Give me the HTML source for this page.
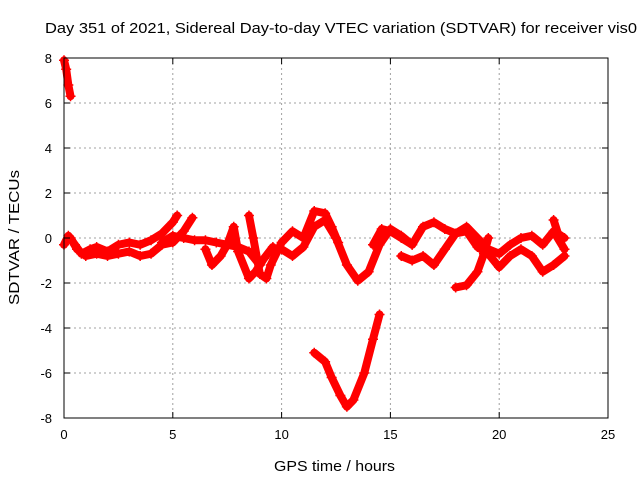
<!DOCTYPE html>
<html><head><meta charset="utf-8"><style>
body{margin:0;background:#fff;}
svg{display:block;font-family:"Liberation Sans",sans-serif;}
</style></head><body>
<svg id="c" width="640" height="480">
<rect width="640" height="480" fill="#fff"/>
<text x="45" y="33" font-size="15" textLength="592" lengthAdjust="spacingAndGlyphs">Day 351 of 2021, Sidereal Day-to-day VTEC variation (SDTVAR) for receiver vis0</text>
<g id="grid"></g><g id="marks"></g><g id="axes"></g>
<text x="274" y="471" font-size="15" textLength="121" lengthAdjust="spacingAndGlyphs">GPS time / hours</text>
<text transform="translate(19,305) rotate(-90)" font-size="15" textLength="135" lengthAdjust="spacingAndGlyphs">SDTVAR / TECUs</text>
</svg>
<script>
const xTicks=[0,5,10,15,20,25];
const yTicks=[-8,-6,-4,-2,0,2,4,6,8];
const s1=[[0,7.9],[0.1,7.5],[0.2,6.8],[0.3,6.3]];
const s2=[[0,-0.3],[0.2,0.1],[0.5,-0.3],[0.8,-0.7],[1.2,-0.5],[1.5,-0.4],[2,-0.6],[2.5,-0.3],[3,-0.2],[3.5,-0.3],[4,-0.1],[4.5,0.2],[5,0.7],[5.2,1.0]];
const s3=[[0.3,0],[0.6,-0.5],[1,-0.8],[1.5,-0.7],[2,-0.8],[2.5,-0.7],[3,-0.6],[3.5,-0.8],[4,-0.7],[4.5,-0.3],[5,-0.2],[5.5,0.3],[5.9,0.9]];
const s4=[[4.5,-0.2],[5,0.1],[5.5,0],[6,-0.1],[6.5,-0.1],[7,-0.2],[7.5,-0.3],[8,-0.4],[8.5,-0.6],[9,-1.2]];
const s5=[[6.5,-0.5],[6.8,-1.2],[7.2,-0.8],[7.5,-0.3],[7.8,0.5],[8,-0.6],[8.5,-1.8],[8.8,-1.5],[9.2,-0.9],[9.6,-0.4]];
const s6=[[8.5,1.0],[8.7,0],[9,-1.6],[9.3,-1.8],[9.5,-1.2],[10,-0.2],[10.5,0.3],[11,0],[11.5,1.2],[12,1.1],[12.3,0.5],[12.6,-0.2]];
const s7=[[10,-0.5],[10.5,-0.8],[11,-0.4],[11.5,0.5],[12,0.8],[12.5,0],[13,-1.2],[13.5,-1.9],[14,-1.5],[14.5,-0.3],[15,0.4],[15.5,0.1],[16,-0.3]];
const s8=[[11.5,-5.1],[12,-5.5],[12.3,-6.2],[12.7,-7.0],[13,-7.5],[13.3,-7.2],[13.8,-6.0],[14.2,-4.5],[14.5,-3.4]];
const s9=[[14.2,-0.3],[14.6,0.4],[15,0.3],[15.5,0],[16,-0.3],[16.5,0.5],[17,0.7],[17.5,0.4],[18,0.2],[18.5,0.5],[19,0],[19.5,-0.5],[20,-0.7],[20.5,-0.3],[21,0],[21.5,0.1],[22,-0.3],[22.5,0.3],[23,-0.5]];
const s10=[[15.5,-0.8],[16,-1.0],[16.5,-0.8],[17,-1.2],[17.5,-0.5],[18,0.2],[18.5,0.3],[19,-0.4],[19.5,-0.7],[20,-1.3],[20.5,-0.8],[21,-0.5],[21.5,-0.8],[22,-1.5],[22.5,-1.2],[23,-0.8]];
const s11=[[18,-2.2],[18.5,-2.1],[19,-1.5],[19.3,-0.7],[19.5,0]];
const s12=[[22.5,0.8],[22.7,0.2],[23,0]];
const series=[s1,s2,s3,s4,s5,s6,s7,s8,s9,s10,s11,s12];
const L=64,R=608,T=58,B=418;
const X=v=>L+(v-0)/25*(R-L), Y=v=>B-(v+8)/16*(B-T);
const NS='http://www.w3.org/2000/svg';
function mk(t,a,p){const e=document.createElementNS(NS,t);for(const k in a)e.setAttribute(k,a[k]);p.appendChild(e);return e;}
const grid=document.getElementById('grid'),axes=document.getElementById('axes'),marks=document.getElementById('marks');
xTicks.forEach(t=>{const x=X(t);
 if(t>0&&t<25){const g=mk('line',{x1:x,x2:x,y1:T,y2:B,stroke:'#a0a0a0','stroke-dasharray':'2,3'},grid);}
 mk('line',{x1:x,x2:x,y1:B,y2:B-6,stroke:'#000'},axes);mk('line',{x1:x,x2:x,y1:T,y2:T+6,stroke:'#000'},axes);
 const l=mk('text',{x:x,y:B+21,'font-size':13,'text-anchor':'middle'},axes);l.textContent=t;});
yTicks.forEach(t=>{const y=Y(t);
 if(t>-8&&t<8){const g=mk('line',{x1:L,x2:R,y1:y,y2:y,stroke:'#a0a0a0','stroke-dasharray':'2,3'},grid);}
 mk('line',{x1:L,x2:L+6,y1:y,y2:y,stroke:'#000'},axes);mk('line',{x1:R,x2:R-6,y1:y,y2:y,stroke:'#000'},axes);
 const l=mk('text',{x:L-12,y:y+5,'font-size':13,'text-anchor':'end'},axes);l.textContent=t;});
const fr=mk('rect',{x:L,y:T,width:R-L,height:B-T,fill:'none',stroke:'#000'},axes);

series.forEach((s,i)=>{
 const pl=mk('polyline',{points:s.map(p=>X(p[0])+','+Y(p[1])).join(' '),fill:'none',stroke:'#f00','stroke-width':8,'stroke-linejoin':'round','stroke-linecap':'round'},marks);
 
 
 s.forEach(p=>{const x=X(p[0]),y=Y(p[1]);
  const m=mk('path',{d:`M${x-5},${y}H${x+5}M${x},${y-5}V${y+5}`,stroke:'#f00','stroke-width':1.5},marks);
  
  });
});
</script>
</body></html>
